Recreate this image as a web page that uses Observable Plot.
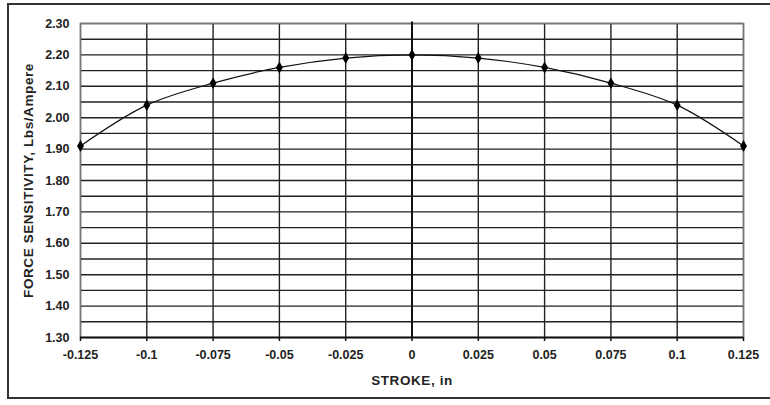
<!DOCTYPE html>
<html>
<head>
<meta charset="utf-8">
<script src="https://cdn.jsdelivr.net/npm/d3@7"></script>
<script src="https://cdn.jsdelivr.net/npm/@observablehq/plot@0.6"></script>
<style>
  html, body { margin: 0; padding: 0; background: #fff; overflow: hidden; }
  #wrap { position: relative; width: 770px; height: 405px; }
  #border { position: absolute; left: 7px; top: 3px; width: 800px; height: 396px; border: 2px solid #333; box-sizing: border-box; }
  #chart { position: absolute; left: 0; top: 0; }
  #chart svg g[aria-label="x-axis label"] text, #chart svg g[aria-label="y-axis label"] text { font-size: 13.5px; letter-spacing: 0.6px; }
</style>
</head>
<body>
<div id="wrap"><div id="border"></div><div id="chart"></div></div>
<script>
const stroke = [-0.125, -0.1, -0.075, -0.05, -0.025, 0, 0.025, 0.05, 0.075, 0.1, 0.125];
const sensitivity = [1.91, 2.04, 2.11, 2.16, 2.19, 2.20, 2.19, 2.16, 2.11, 2.04, 1.91];
const xTicks = [-0.125, -0.1, -0.075, -0.05, -0.025, 0, 0.025, 0.05, 0.075, 0.1, 0.125];
const xTickLabels = ["-0.125", "-0.1", "-0.075", "-0.05", "-0.025", "0", "0.025", "0.05", "0.075", "0.1", "0.125"];
const yTicks = [1.30, 1.40, 1.50, 1.60, 1.70, 1.80, 1.90, 2.00, 2.10, 2.20, 2.30];
const yGrid = [1.35, 1.40, 1.45, 1.50, 1.55, 1.60, 1.65, 1.70, 1.75, 1.80, 1.85, 1.90, 1.95, 2.00, 2.05, 2.10, 2.15, 2.20, 2.25, 2.30];

const data = stroke.map((s, i) => ({x: s, y: sensitivity[i]}));
const fmtX = d => xTickLabels[xTicks.indexOf(d)];

const chart = Plot.plot({
  width: 770,
  height: 405,
  marginLeft: 80,
  marginTop: 23,
  marginRight: 27,
  marginBottom: 68,
  style: {fontFamily: "'Liberation Sans', Arial, sans-serif", fontSize: "12px", fontWeight: "bold", color: "#222", background: "transparent"},
  x: {domain: [-0.125, 0.125]},
  y: {domain: [1.30, 2.30]},
  marks: [
    Plot.gridY(yGrid, {stroke: "#222", strokeOpacity: 1, strokeWidth: 1.4}),
    Plot.gridX(xTicks, {stroke: "#222", strokeOpacity: 1, strokeWidth: 1.4}),
    Plot.frame({stroke: "#777", strokeWidth: 1.3}),
    Plot.ruleX([0], {y1: 1.30, y2: 2.305, stroke: "#111", strokeWidth: 2}),
    Plot.ruleY([1.30], {stroke: "#111", strokeWidth: 2}),
    Plot.axisX(xTicks, {tickFormat: fmtX, tickSize: 4, tickPadding: 9, stroke: "#111", strokeWidth: 1.5, fontSize: 12.5,
      label: "STROKE, in", labelAnchor: "center", labelArrow: "none", labelOffset: 47}),
    Plot.axisY(yTicks, {tickFormat: d3.format(".2f"), tickSize: 0, tickPadding: 11, fontSize: 12.5,
      label: "FORCE SENSITIVITY, Lbs/Ampere", labelAnchor: "center", labelArrow: "none", labelOffset: 57}),
    Plot.line(data, {x: "x", y: "y", stroke: "#111", strokeWidth: 1.2, curve: "catmull-rom"}),
    Plot.dot(data, {x: "x", y: "y", symbol: "diamond", fill: "#000", r: 3.6})
  ]
});
document.getElementById("chart").appendChild(chart);
</script>
</body>
</html>
